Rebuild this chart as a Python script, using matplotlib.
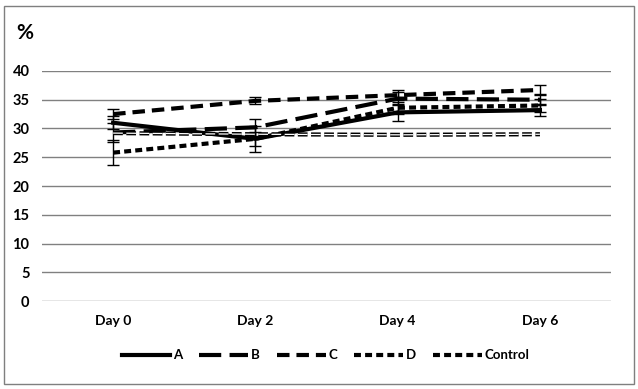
import matplotlib
matplotlib.use("Agg")
import matplotlib.pyplot as plt
from matplotlib.patches import Rectangle
from matplotlib.lines import Line2D

plt.rcParams['font.family'] = ['Lato', 'DejaVu Sans']
plt.rcParams['lines.scale_dashes'] = False

# données
days = ["Day 0", "Day 2", "Day 4", "Day 6"]
a_vals = [31.0, 28.2, 32.8, 33.2]
a_err = [1.1, 1.2, 1.5, 1.0]
b_vals = [29.3, 30.2, 35.2, 35.0]
b_err = [1.7, 1.5, 1.2, 1.0]
c_vals = [32.5, 34.8, 35.8, 36.7]
c_err = [0.9, 0.6, 0.9, 0.9]
d_vals = [25.8, 28.2, 33.6, 34.0]
d_err = [2.2, 2.3, 1.0, 1.2]
ctrl_vals = [29.2, 29.0, 28.9, 29.0]
yticks = [0, 5, 10, 15, 20, 25, 30, 35, 40]

x = list(range(len(days)))
lw = 3.0

fig = plt.figure(figsize=(6.38, 3.89), dpi=100)
ax = fig.add_axes([0.0658, 0.2262, 0.892, 0.5913])

series = [
    ("A", a_vals, a_err, "-"),
    ("B", b_vals, b_err, (0, (16, 6))),
    ("C", c_vals, c_err, (0, (9, 5))),
    ("D", d_vals, d_err, (0, (5, 3))),
]

handles = []
for name, vals, err, ls in series:
    ax.errorbar(x, vals, yerr=err, color="black", linestyle=ls, linewidth=lw,
                elinewidth=1, capsize=4, capthick=1, zorder=3)
    handles.append(Line2D([], [], color="black", linestyle=ls, linewidth=lw, label=name))

# contrôle : tirets creux
ctrl_ls = (0, (7, 2.5))
ax.plot(x, ctrl_vals, color="black", linestyle=ctrl_ls, linewidth=lw, zorder=3)
ax.plot(x, ctrl_vals, color="white", linestyle=ctrl_ls, linewidth=0.9, zorder=4)
handles.append(Line2D([], [], color="black", linestyle=(0, (5, 3)), linewidth=lw, label="Control"))

ax.set_xlim(-0.5, 3.5)
ax.set_ylim(0, 40)
ax.set_xticks(x)
ax.set_xticklabels(days, fontsize=10, fontweight="bold")
ax.set_yticks(yticks)
ax.set_yticklabels([str(v) for v in yticks], fontsize=10.5, fontweight="bold")
ax.tick_params(length=0, pad=9)
ax.tick_params(axis="x", pad=10)
ax.grid(True, axis="y", color="#808080", linewidth=1)
ax.set_axisbelow(True)
for s in ax.spines.values():
    s.set_visible(False)

fig.text(0.025, 0.915, "%", fontsize=15, fontweight="bold", ha="left", va="center")

fig.legend(handles=handles, loc="center", bbox_to_anchor=(0.51, 0.087), ncol=5, frameon=False,
           prop={"size": 9.5, "weight": "bold"}, handlelength=3.7,
           columnspacing=1.3, handletextpad=0.2)

fig.patches.append(Rectangle((0.006, 0.013), 0.987, 0.972, transform=fig.transFigure,
                             fill=False, edgecolor="#7f7f7f", linewidth=1))

plt.savefig("out.png", dpi=100)
